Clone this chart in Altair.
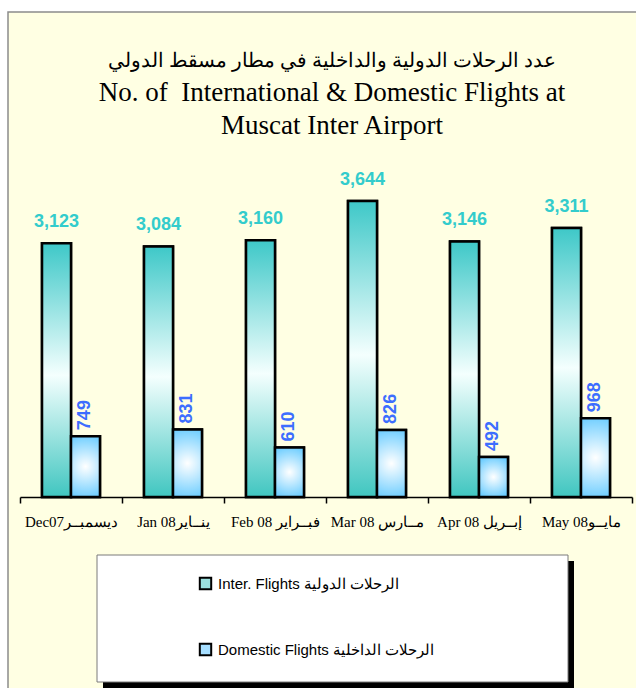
import altair as alt
import pandas as pd

# ---- data ----
months = ["Dec07ديسمبــر", "Jan 08ينــاير", "Feb 08 فبــراير",
          "Mar 08 مــارس", "Apr 08 إبــريل", "May 08مايــو"]
inter = [3123, 3084, 3160, 3644, 3146, 3311]
domestic = [749, 831, 610, 826, 492, 968]
series_names = ["Inter. Flights الرحلات الدولية", "Domestic Flights الرحلات الداخلية"]
title_ar = "عدد الرحلات الدولية والداخلية في مطار مسقط الدولي"
title_en = ["No. of\u00a0 International & Domestic Flights at",
            "Muscat Inter Airport"]

rows = []
for m, a, b in zip(months, inter, domestic):
    rows.append({"month": m, "series": series_names[0], "value": a})
    rows.append({"month": m, "series": series_names[1], "value": b})
df = pd.DataFrame(rows)

W, H = 612, 325
PAD = {"left": 20, "top": 172, "right": 4, "bottom": 191}

one = alt.Data(values=[{"k": 1}])

# frame / background panel
frame = alt.Chart(one).mark_rect(fill="#FFFFE3", stroke="#8c8c8c", strokeWidth=1.5).encode(
    x=alt.value(-12), x2=alt.value(640), y=alt.value(-160), y2=alt.value(540))

# legend box with shadow
shadow = alt.Chart(one).mark_rect(fill="black").encode(
    x=alt.value(83), x2=alt.value(554), y=alt.value(389), y2=alt.value(520))
box = alt.Chart(one).mark_rect(fill="white", stroke="#7a7a7a", strokeWidth=1).encode(
    x=alt.value(77), x2=alt.value(548), y=alt.value(383), y2=alt.value(510))

xenc = alt.X("month:N", sort=months, title=None,
             scale=alt.Scale(paddingInner=0, paddingOuter=0),
             axis=alt.Axis(labelAngle=0, labelFont="Liberation Serif", labelFontSize=15,
                           labelColor="black", domainColor="black", domainWidth=1.5,
                           tickColor="black", tickSize=6, tickWidth=1.5, tickBand="extent",
                           labelPadding=11, grid=False, labelOverlap=False, labelLimit=200,
                           zindex=1))
xoff = alt.XOffset("series:N", sort=series_names,
                   scale=alt.Scale(domain=series_names, paddingInner=0, paddingOuter=0.76))
yenc = alt.Y("value:Q", scale=alt.Scale(domain=[0, 4000]), axis=None)

base = alt.Chart(df).encode(x=xenc, xOffset=xoff, y=yenc)

# solid bars (produce legend), covered by gradient bars
legend_bars = base.mark_bar(stroke="black", strokeWidth=2.5).encode(
    fill=alt.Fill("series:N", sort=series_names,
                  scale=alt.Scale(domain=series_names, range=["#9BE0DE", "#A6DEFF"]),
                  legend=alt.Legend(title=None, orient="none", legendX=178, legendY=404,
                                    direction="vertical", symbolType="square", symbolSize=130,
                                    symbolStrokeColor="black", symbolStrokeWidth=2,
                                    labelFont="Liberation Sans", labelFontSize=15,
                                    labelColor="black", rowPadding=45, padding=0,
                                    labelOffset=5, labelLimit=400, zindex=1)))

grad_inter = alt.Gradient(gradient="linear", x1=0, y1=0, x2=0, y2=1, stops=[
    alt.GradientStop(color="#3EC8C8", offset=0),
    alt.GradientStop(color="#F4FFFE", offset=0.52),
    alt.GradientStop(color="#40C6C0", offset=1)])
grad_dom = alt.Gradient(gradient="radial", x1=0.5, y1=0.5, x2=0.5, y2=0.5, r1=0, r2=0.6, stops=[
    alt.GradientStop(color="#FFFFFF", offset=0),
    alt.GradientStop(color="#58C6FF", offset=1)])

bars_inter = base.transform_filter(alt.datum.series == series_names[0]).mark_bar(
    fill=grad_inter, stroke="black", strokeWidth=2.5)
bars_dom = base.transform_filter(alt.datum.series == series_names[1]).mark_bar(
    fill=grad_dom, stroke="black", strokeWidth=2.5)

lab_inter = base.transform_filter(alt.datum.series == series_names[0]).mark_text(
    baseline="bottom", dy=-12, fontSize=18, fontWeight="bold", font="Liberation Sans",
    color="#33CCCC").encode(text=alt.Text("value:Q", format=","))
lab_dom = base.transform_filter(alt.datum.series == series_names[1]).mark_text(
    angle=270, align="left", baseline="middle", dx=6, fontSize=18, fontWeight="bold",
    font="Liberation Sans", color="#3D6EFF").encode(text=alt.Text("value:Q", format=","))

chart = alt.layer(frame, shadow, box, legend_bars, bars_inter, bars_dom, lab_inter, lab_dom).properties(
    width=W, height=H,
    title=alt.Title(text=title_ar, font="Liberation Serif", fontSize=20, fontWeight="normal",
                    color="black", subtitle=title_en, subtitleFont="Liberation Serif",
                    subtitleFontSize=27, subtitleLineHeight=33, subtitleColor="black",
                    subtitlePadding=9, anchor="middle", frame="group", offset=30,
                    dx=6, dy=158, zindex=1),
    autosize=alt.AutoSizeParams(type="none"),
    padding=PAD,
    background="white",
).configure_view(stroke=None)

chart.save("out.html", embed_options={"renderer": "svg", "actions": False})
